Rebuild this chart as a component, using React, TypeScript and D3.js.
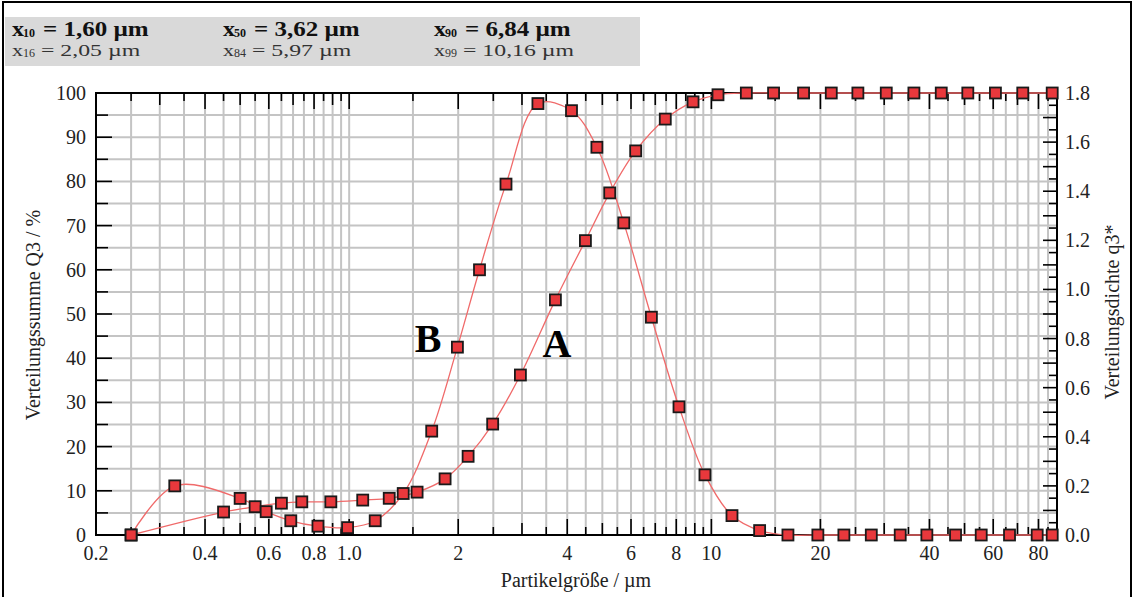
import React from "react";
import * as d3 from "d3";

// ---- data ----
const sizesA = [0.25, 0.45, 0.55, 0.65, 0.74, 0.89, 1.09, 1.29, 1.54, 1.84, 2.13, 2.49, 2.97, 3.71, 4.49, 5.24, 6.18, 7.46, 8.9, 10.43, 12.49, 14.85, 17.97, 21.43, 25.38, 30.4, 36.24, 43.12, 51.05, 60.85, 72.4, 87.3];
const cumulativeQ3 = [0, 5.2, 6.4, 7.2, 7.5, 7.5, 7.9, 8.3, 9.7, 12.7, 17.8, 25.1, 36.2, 53.2, 66.6, 77.4, 86.9, 94.1, 98.0, 99.6, 100, 100, 100, 100, 100, 100, 100, 100, 100, 100, 100, 100];
const sizesB = [0.25, 0.33, 0.5, 0.59, 0.69, 0.82, 0.99, 1.18, 1.41, 1.69, 1.99, 2.29, 2.71, 3.32, 4.11, 4.83, 5.73, 6.83, 8.14, 9.6, 11.4, 13.59, 16.27, 19.68, 23.22, 27.64, 33.22, 39.35, 47.22, 55.59, 66.55, 79.35, 87.3];
const densityQ3 = [0, 0.2, 0.149, 0.095, 0.058, 0.036, 0.03, 0.058, 0.169, 0.423, 0.765, 1.08, 1.429, 1.757, 1.728, 1.579, 1.271, 0.887, 0.522, 0.245, 0.079, 0.018, 0, 0, 0, 0, 0, 0, 0, 0, 0, 0, 0];

const statTop = ["10", "50", "90"];
const statTopValues = ["1,60", "3,62", "6,84"];
const statBottom = ["16", "84", "99"];
const statBottomValues = ["2,05", "5,97", "10,16"];

const xTickLabels = [0.2, 0.4, 0.6, 0.8, 1, 2, 4, 6, 8, 10, 20, 40, 60, 80];
const leftTicks = [0, 10, 20, 30, 40, 50, 60, 70, 80, 90, 100];
const rightTicks = [0, 0.2, 0.4, 0.6, 0.8, 1.0, 1.2, 1.4, 1.6, 1.8];

const FONT = '"Liberation Serif", "Times New Roman", serif';

function Stretched({ x, y, sx, children, ...rest }: any) {
  return (
    <g transform={`translate(${x},${y}) scale(${sx},1)`}>
      <text x={0} y={0} {...rest}>{children}</text>
    </g>
  );
}

export default function App() {
  const L = 96, R = 1057, T = 93, B = 535;
  const x = d3.scaleLog().domain([0.2, 90]).range([L, R]);
  const yL = d3.scaleLinear().domain([0, 100]).range([B, T]);
  const yR = d3.scaleLinear().domain([0, 1.8]).range([B, T]);

  // grid values (every half unit of each decade)
  const gridX: { v: number; kind: number }[] = [];
  [0.1, 1, 10].forEach((d) => {
    for (let m = 1; m < 10.01; m += 0.5) {
      const v = +(m * d).toFixed(4);
      if (v >= 0.2 - 1e-9 && v <= 90 + 1e-9) {
        const labeled = xTickLabels.some((t) => Math.abs(t - v) < 1e-6);
        const kind = labeled ? 16 : Number.isInteger(m) ? 12 : 8;
        if (!gridX.some((g) => Math.abs(g.v - v) < 1e-6)) gridX.push({ v, kind });
      }
    }
  });
  const gridY = d3.range(5, 100, 5);
  const rightMinor = d3.range(0, 1.8001, 0.05);

  const line = d3.line<[number, number]>().curve(d3.curveCatmullRom.alpha(0.5));
  const ptsA: [number, number][] = sizesA.map((s, i) => [x(s), yL(cumulativeQ3[i])]);
  const ptsB: [number, number][] = sizesB.map((s, i) => [x(s), yR(densityQ3[i])]);

  const sq = 11;
  const fmtX = (v: number) => (v < 1 ? v.toFixed(1) : v === 1 ? "1.0" : String(v));

  const colX = [12, 223, 434];

  return (
    <svg width={1134} height={597} style={{ position: "absolute", left: 0, top: 0, background: "#fff" }} fontFamily={FONT}>
      <rect x={0} y={0} width={1134} height={597} fill="#fff" />
      {/* outer frame */}
      <rect x={3} y={2} width={1128} height={620} fill="none" stroke="#000" strokeWidth={2} />
      {/* header */}
      <rect x={5} y={17} width={635} height={49} fill="#d9d9d9" />
      {statTop.map((s, i) => (
        <g key={"t" + i}>
          <Stretched x={colX[i]} y={36} sx={1.2} fontSize={20} fontWeight="bold" fill="#111">x</Stretched>
          <Stretched x={colX[i] + 11} y={37} sx={1.0} fontSize={12} fontWeight="bold" fill="#111">{s}</Stretched>
          <Stretched x={colX[i] + 31} y={36} sx={1.25} fontSize={20} fontWeight="bold" fill="#111">{"= " + statTopValues[i] + " µm"}</Stretched>
        </g>
      ))}
      {statBottom.map((s, i) => (
        <g key={"b" + i}>
          <Stretched x={colX[i]} y={56} sx={1.3} fontSize={17} fill="#333">x</Stretched>
          <Stretched x={colX[i] + 11} y={57} sx={1.0} fontSize={12} fill="#333">{s}</Stretched>
          <Stretched x={colX[i] + 29} y={56} sx={1.4} fontSize={17} fill="#333">{"= " + statBottomValues[i] + " µm"}</Stretched>
        </g>
      ))}

      {/* grid */}
      {gridX.map((g, i) => (
        <line key={"gx" + i} x1={x(g.v)} x2={x(g.v)} y1={T} y2={B} stroke="#c4c4c4" strokeWidth={2} />
      ))}
      {gridY.map((v, i) => (
        <line key={"gy" + i} x1={L} x2={R} y1={yL(v)} y2={yL(v)} stroke="#c4c4c4" strokeWidth={2} />
      ))}

      {/* ticks */}
      {gridX.map((g, i) => (
        <g key={"tx" + i}>
          <line x1={x(g.v)} x2={x(g.v)} y1={B} y2={B - g.kind} stroke="#000" strokeWidth={1.6} />
          <line x1={x(g.v)} x2={x(g.v)} y1={T} y2={T + g.kind} stroke="#000" strokeWidth={1.6} />
        </g>
      ))}
      {d3.range(0, 101, 5).map((v, i) => (
        <line key={"tl" + i} x1={L} x2={L + (v % 10 === 0 ? 16 : 12)} y1={yL(v)} y2={yL(v)} stroke="#000" strokeWidth={1.6} />
      ))}
      {rightMinor.map((v, i) => (
        <line key={"tr" + i} x1={R} x2={R - (i % 2 === 0 ? 14 : 8)} y1={yR(v)} y2={yR(v)} stroke="#000" strokeWidth={1.6} />
      ))}
      {/* frame */}
      <rect x={L} y={T} width={R - L} height={B - T} fill="none" stroke="#000" strokeWidth={2} />

      {/* tick labels */}
      {xTickLabels.map((v, i) => (
        <text key={"xl" + i} x={x(v)} y={560} fontSize={20} textAnchor="middle" fill="#222">
          {fmtX(v)}
        </text>
      ))}
      {leftTicks.map((v, i) => (
        <text key={"ll" + i} x={86} y={yL(v) + 7} fontSize={20} textAnchor="end" fill="#222">
          {v}
        </text>
      ))}
      {rightTicks.map((v, i) => (
        <text key={"rl" + i} x={1065} y={yR(v) + 7} fontSize={20} textAnchor="start" fill="#222">
          {v.toFixed(1)}
        </text>
      ))}

      {/* axis titles */}
      <text x={576} y={587} fontSize={20} textAnchor="middle" fill="#222">Partikelgröße / µm</text>
      <text transform="translate(40,315) rotate(-90)" fontSize={20} textAnchor="middle" fill="#222">Verteilungssumme Q3 / %</text>
      <text transform="translate(1119,312) rotate(-90)" fontSize={20} textAnchor="middle" fill="#222">Verteilungsdichte q3*</text>

      {/* series lines */}
      <path d={line(ptsA) || ""} fill="none" stroke="#f06a6a" strokeWidth={1.3} />
      <path d={line(ptsB) || ""} fill="none" stroke="#f06a6a" strokeWidth={1.3} />

      {/* markers */}
      {ptsA.concat(ptsB).map((p, i) => (
        <rect key={"m" + i} x={p[0] - sq / 2} y={p[1] - sq / 2} width={sq} height={sq} fill="#e8383c" stroke="#1a1a1a" strokeWidth={1.8} />
      ))}

      {/* curve labels */}
      <text x={428} y={352} fontSize={40} fontWeight="bold" textAnchor="middle" fill="#000">B</text>
      <text x={557} y={357} fontSize={40} fontWeight="bold" textAnchor="middle" fill="#000">A</text>
    </svg>
  );
}
